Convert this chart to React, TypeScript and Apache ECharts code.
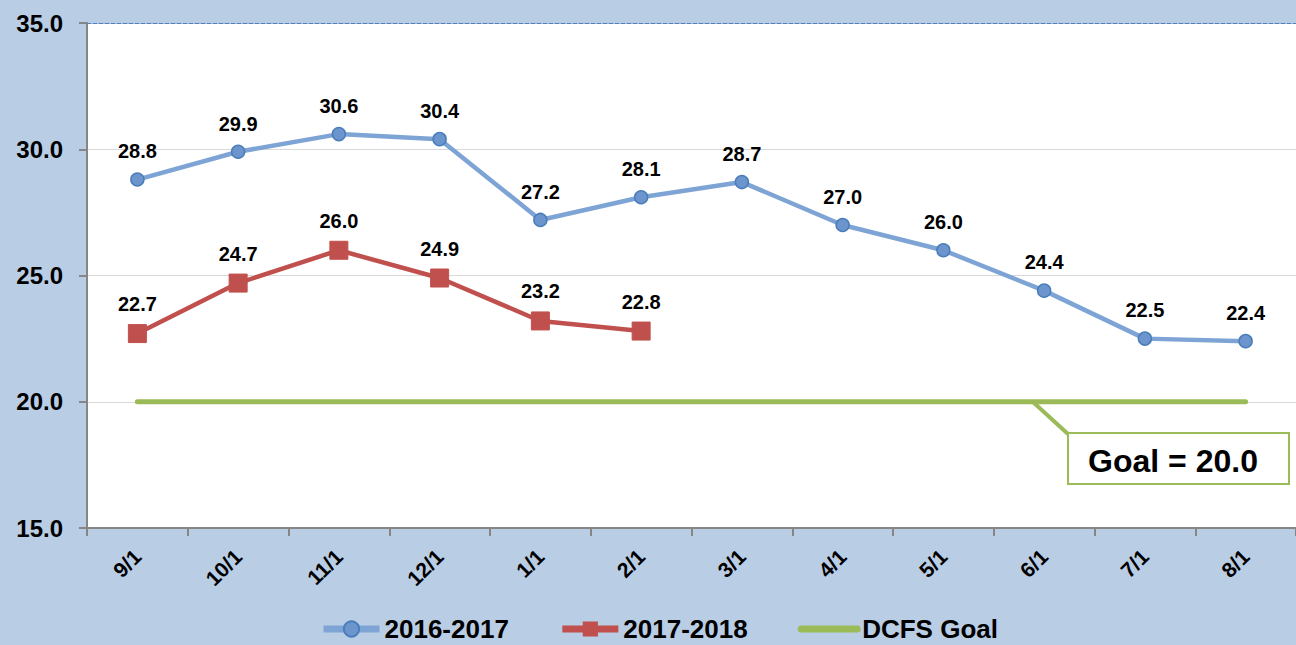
import React, { useEffect, useRef } from "react";
import * as echarts from "echarts";

const categories = ["9/1", "10/1", "11/1", "12/1", "1/1", "2/1", "3/1", "4/1", "5/1", "6/1", "7/1", "8/1"];
const series2016 = [28.8, 29.9, 30.6, 30.4, 27.2, 28.1, 28.7, 27.0, 26.0, 24.4, 22.5, 22.4];
const series2017 = [22.7, 24.7, 26.0, 24.9, 23.2, 22.8];
const goalValues = [20, 20, 20, 20, 20, 20, 20, 20, 20, 20, 20, 20];
const goalText = "Goal = 20.0";

export default function App() {
  const ref = useRef<HTMLDivElement>(null);
  useEffect(() => {
    if (!ref.current) return;
    const chart = echarts.init(ref.current, null, { renderer: "svg" });
    const font = "'Liberation Sans', Arial, sans-serif";
    const labelStyle = {
      show: true,
      position: "top",
      distance: 11,
      fontSize: 20,
      fontWeight: "bold",
      color: "#000",
      fontFamily: font,
      formatter: (p: any) => Number(p.value).toFixed(1),
    };
    chart.setOption({
      animation: false,
      backgroundColor: "#b9cde5",
      textStyle: { fontFamily: font },
      grid: {
        left: 87,
        top: 23,
        width: 1219,
        height: 505,
        show: true,
        backgroundColor: "#ffffff",
        borderWidth: 0,
      },
      legend: {
        top: 616,
        left: 320,
        padding: 0,
        itemWidth: 56,
        itemHeight: 19,
        itemGap: 50,
        lineStyle: { width: 7 },
        textStyle: { fontSize: 26, fontWeight: "bold", color: "#000", fontFamily: font },
        data: [
          { name: "2016-2017" },
          { name: "2017-2018" },
          { name: "DCFS Goal", itemStyle: { color: "rgba(0,0,0,0)", borderColor: "rgba(0,0,0,0)", opacity: 0 } },
        ],
      },
      xAxis: [
        {
          type: "category",
          data: categories,
          boundaryGap: true,
          axisLine: { lineStyle: { color: "#868686", width: 2 } },
          axisTick: { show: true, length: 8, lineStyle: { color: "#868686", width: 2 } },
          axisLabel: {
            rotate: 45,
            margin: 25,
            fontSize: 21,
            fontWeight: "bold",
            color: "#000",
            fontFamily: font,
          },
        },
        {
          type: "category",
          data: categories,
          position: "top",
          axisLine: { show: true, lineStyle: { color: "#4f81bd", width: 1, type: "dashed" } },
          axisTick: { show: false },
          axisLabel: { show: false },
        },
      ],
      yAxis: {
        type: "value",
        min: 15,
        max: 35,
        interval: 5,
        axisLine: { show: true, lineStyle: { color: "#868686", width: 2 } },
        axisTick: { show: true, length: 8, lineStyle: { color: "#868686", width: 2 } },
        splitLine: { show: true, lineStyle: { color: "#d9d9d9", width: 1 } },
        axisLabel: {
          margin: 24,
          fontSize: 24,
          fontWeight: "bold",
          color: "#000",
          fontFamily: font,
          formatter: (v: number) => v.toFixed(1),
        },
      },
      series: [
        {
          name: "DCFS Goal",
          type: "line",
          data: goalValues,
          symbol: "none",
          lineStyle: { color: "#9bbb59", width: 5, cap: "round" },
          itemStyle: { color: "#9bbb59" },
          emphasis: { disabled: true },
          z: 2,
        },
        {
          name: "2016-2017",
          type: "line",
          data: series2016,
          symbol: "circle",
          symbolSize: 13,
          lineStyle: { color: "#7ea4d6", width: 4.5 },
          itemStyle: { color: "#6b95cc", borderColor: "#4a7ebb", borderWidth: 1.5 },
          label: labelStyle,
          emphasis: { disabled: true },
          z: 3,
        },
        {
          name: "2017-2018",
          type: "line",
          data: series2017,
          symbol: "rect",
          symbolSize: 18,
          lineStyle: { color: "#c0504d", width: 4.5 },
          itemStyle: { color: "#c0504d", borderColor: "#c0504d" },
          label: { ...labelStyle, distance: 10 },
          emphasis: { disabled: true },
          z: 4,
        },
      ],
      graphic: [
        {
          type: "line",
          shape: { x1: 1033, y1: 402, x2: 1068, y2: 434 },
          style: { stroke: "#9bbb59", lineWidth: 4 },
          z: 10,
        },
        {
          type: "rect",
          shape: { x: 1068, y: 433, width: 221, height: 51 },
          style: { fill: "#ffffff", stroke: "#9bbb59", lineWidth: 2 },
          z: 11,
        },
        {
          type: "text",
          x: 1173,
          y: 461,
          style: {
            text: goalText,
            fontSize: 32,
            fontWeight: "bold",
            fill: "#000",
            fontFamily: font,
            align: "center",
            verticalAlign: "middle",
          },
          z: 12,
        },
      ],
    });
    return () => chart.dispose();
  }, []);
  return <div ref={ref} style={{ position: "fixed", left: 0, top: 0, width: 1296, height: 645 }} />;
}
